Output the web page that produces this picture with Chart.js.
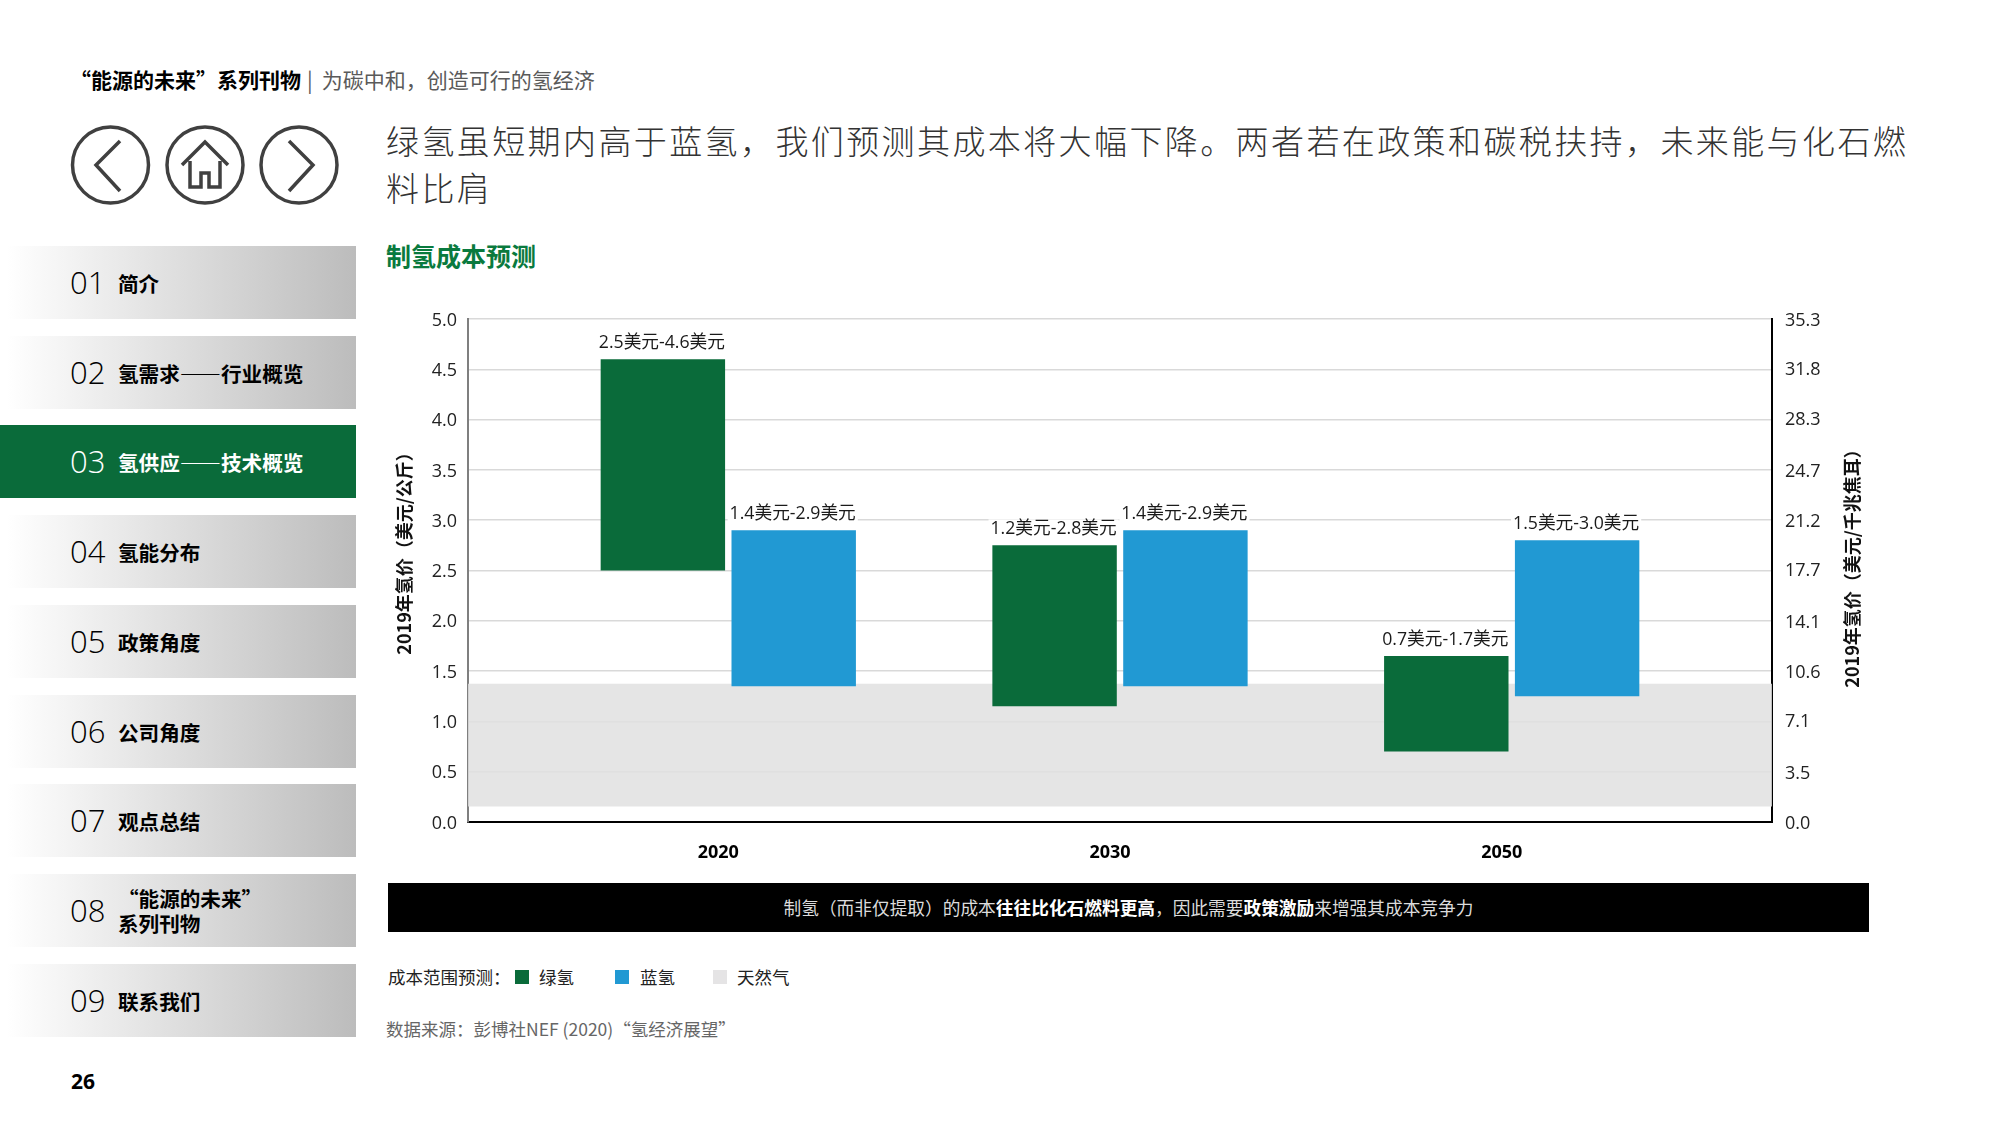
<!DOCTYPE html>
<html lang="zh">
<head>
<meta charset="utf-8">
<title>制氢成本预测</title>
<script src="https://cdn.jsdelivr.net/npm/chart.js@4/dist/chart.umd.min.js"></script>
<style>
  html, body { margin: 0; padding: 0; background: #fff; width: 2000px; height: 1125px; overflow: hidden; }
  body { font-family: "Noto Sans CJK SC", "Open Sans", sans-serif; color: #000; position: relative; }
  .abs { position: absolute; white-space: nowrap; }
  .head { left: 70px; top: 64px; font-size: 21px; line-height: 30px; color: #5a5a5a; }
  .head b { color: #000; }
  .head i { font-style: normal; margin: 0 9px 0 6px; }
  .title { left: 386px; top: 117px; width: 1540px; font-size: 33px; line-height: 47px; font-weight: 300; color: #333; letter-spacing: 2.4px; white-space: normal; }
  .sub { left: 386px; top: 238px; font-size: 25px; line-height: 34px; font-weight: 700; color: #0a7a3e; }
  .nav { left: 0; width: 356px; height: 73px; background: linear-gradient(to right, #fff 2%, #bcbcbc 100%); }
  .nav.on { background: #0a6b3a; color: #fff; }
  .nav .n { position: absolute; left: 70px; top: 16px; font-family: "Open Sans", sans-serif; font-size: 31px; line-height: 40px; font-weight: 300; }
  .nav .t { position: absolute; left: 118px; top: 1px; height: 73px; display: flex; align-items: center; font-size: 20.6px; line-height: 25px; font-weight: 700; white-space: pre; }
  .page { left: 71px; top: 1066px; font-family: "Open Sans", sans-serif; font-size: 21px; line-height: 30px; font-weight: 700; }
  .bar { left: 388px; top: 883px; width: 1481px; height: 49px; background: #000; color: #dcdcdc; font-size: 17.7px; line-height: 49px; text-align: center; }
  .bar b { color: #fff; }
  .lg { top: 964px; font-size: 17.5px; line-height: 26px; color: #222; }
  .sw { top: 970px; width: 14px; height: 14px; }
  .src { left: 386px; top: 1016px; font-size: 17.5px; line-height: 26px; color: #666; }
  #wrap { position: absolute; left: 380px; top: 290px; width: 1520px; height: 590px; }
</style>
</head>
<body>
<div class="abs head"><b>“能源的未来”系列刊物</b><i>|</i>为碳中和，创造可行的氢经济</div>
<svg class="abs" style="left:60px;top:115px" width="300" height="100" fill="none" stroke="#404040" stroke-width="3.5">
  <circle cx="50.5" cy="50" r="38"/><circle cx="145" cy="50" r="38"/><circle cx="239" cy="50" r="38"/>
  <path d="M60 26 L36 50 L60 76"/>
  <path d="M229 26 L253 50 L229 76"/>
  <path d="M122 50 L145 27 L168 50 M130 46 V72 H141 V58 H149 V72 H160 V46"/>
</svg>
<div class="abs title">绿氢虽短期内高于蓝氢，我们预测其成本将大幅下降。两者若在政策和碳税扶持，未来能与化石燃料比肩</div>
<div class="abs sub">制氢成本预测</div>
<div id="side"></div>
<div class="abs page">26</div>

<div id="wrap"><canvas id="cv" width="1520" height="590"></canvas></div>

<div class="abs bar">制氢（而非仅提取）的成本<b>往往比化石燃料更高</b>，因此需要<b>政策激励</b>来增强其成本竞争力</div>
<div class="abs lg" style="left:388px">成本范围预测：</div>
<div class="abs sw" style="left:515px;background:#0a6b3a"></div><div class="abs lg" style="left:539px">绿氢</div>
<div class="abs sw" style="left:615px;background:#2199d3"></div><div class="abs lg" style="left:640px">蓝氢</div>
<div class="abs sw" style="left:713px;background:#e5e4e5"></div><div class="abs lg" style="left:737px">天然气</div>
<div class="abs src">数据来源：彭博社NEF (2020)“氢经济展望”</div>

<script>
// 侧边栏
const navNums = ['01', '02', '03', '04', '05', '06', '07', '08', '09'];
const navTexts = ['简介', '氢需求——行业概览', '氢供应——技术概览', '氢能分布', '政策角度', '公司角度', '观点总结', '“能源的未来”\n系列刊物', '联系我们'];

// 图表数据
const years = ['2020', '2030', '2050'];
const greenRange = [[2.5, 4.6], [1.15, 2.75], [0.7, 1.65]];
const blueRange = [[1.35, 2.9], [1.35, 2.9], [1.25, 2.8]];
const gasRange = [0.155, 1.375];
const greenLabels = ['2.5美元-4.6美元', '1.2美元-2.8美元', '0.7美元-1.7美元'];
const blueLabels = ['1.4美元-2.9美元', '1.4美元-2.9美元', '1.5美元-3.0美元'];
const rightTicks = [0, 3.5, 7.1, 10.6, 14.1, 17.7, 21.2, 24.7, 28.3, 31.8, 35.3];
const leftTitle = '2019年氢价（美元/公斤）';
const rightTitle = '2019年氢价（美元/千兆焦耳）';

// 横轴按序号排，两头留白不等于一个类目的宽度
const xMin = -0.6645;
const xMax = 2.6645;

const FONT = '"Open Sans", "Noto Sans CJK SC", sans-serif';
const CJK = '"Noto Sans CJK SC", "Open Sans", sans-serif';

let side = document.querySelector('#side');
navNums.forEach((n, i) => {
    let d = document.createElement('div');
    d.className = 'abs nav' + (i === 2 ? ' on' : '');
    d.style.top = (246 + i * 89.7) + 'px';
    d.innerHTML = `<span class="n">${n}</span><span class="t">${navTexts[i]}</span>`;
    side.appendChild(d);
});

// 柱顶文字
const barLabels = {
    id: 'barLabels',
    afterDatasetsDraw(chart) {
        const ctx = chart.ctx;
        ctx.save();
        ctx.font = '17.7px ' + FONT;
        ctx.textAlign = 'center';
        ctx.textBaseline = 'middle';
        [[1, greenLabels], [2, blueLabels]].forEach(([idx, texts]) => {
            chart.getDatasetMeta(idx).data.forEach((el, i) => {
                let top = Math.min(el.y, el.base),
                    w = ctx.measureText(texts[i]).width;
                ctx.fillStyle = '#fff';
                ctx.fillRect(el.x - w / 2 - 3, top - 26, w + 4, 22);
                ctx.fillStyle = '#1a1a1a';
                ctx.fillText(texts[i], el.x - 1, top - 16);
            });
        });
        ctx.restore();
    }
};

// 两侧纵轴标题，右侧也是从下往上读
const sideTitles = {
    id: 'sideTitles',
    afterDraw(chart) {
        const ctx = chart.ctx;
        [[leftTitle, 24, 259], [rightTitle, 1472, 274]].forEach(([text, x, y]) => {
            ctx.save();
            ctx.translate(x, y);
            ctx.rotate(-Math.PI / 2);
            ctx.font = '700 18px ' + CJK;
            ctx.textAlign = 'center';
            ctx.textBaseline = 'middle';
            ctx.fillStyle = '#111';
            ctx.fillText(text, 0, 0);
            ctx.restore();
        });
    }
};

new Chart(document.querySelector('#cv').getContext('2d'), {
    type: 'bar',
    data: {
        datasets: [
            {
                type: 'line',
                label: '天然气',
                data: [{ x: xMin, y: gasRange[1] }, { x: xMax, y: gasRange[1] }],
                borderWidth: 0,
                pointRadius: 0,
                fill: { value: gasRange[0] },
                backgroundColor: 'rgba(225,224,225,0.85)',
                order: 2
            },
            {
                label: '绿氢',
                data: greenRange.map((r, i) => ({ x: i, y: r })),
                backgroundColor: '#0a6b3a',
                barPercentage: 0.951,
                categoryPercentage: 0.668,
                order: 1
            },
            {
                label: '蓝氢',
                data: blueRange.map((r, i) => ({ x: i, y: r })),
                backgroundColor: '#2199d3',
                barPercentage: 0.951,
                categoryPercentage: 0.668,
                order: 1
            }
        ]
    },
    options: {
        responsive: false,
        animation: false,
        layout: { padding: { top: 29 } },
        plugins: { legend: { display: false }, tooltip: { enabled: false } },
        scales: {
            x: {
                type: 'linear',
                position: 'bottom',
                offset: false,
                min: xMin,
                max: xMax,
                afterBuildTicks: (axis) => { axis.ticks = years.map((y, i) => ({ value: i })); },
                afterFit: (axis) => { axis.height = 58; },
                grid: { display: false, drawTicks: false },
                border: { color: '#000', width: 2 },
                ticks: {
                    callback: (v) => years[v],
                    font: { family: FONT, size: 18, weight: 700 },
                    color: '#000',
                    padding: 20,
                    labelOffset: -10,
                    maxRotation: 0
                }
            },
            y: {
                position: 'left',
                min: 0,
                max: 5,
                afterFit: (axis) => { axis.width = 88; },
                grid: { color: '#d9d9d9', lineWidth: 1.5, drawTicks: false },
                border: { color: '#7f7f7f', width: 2 },
                ticks: {
                    stepSize: 0.5,
                    callback: (v) => v.toFixed(1),
                    font: { family: FONT, size: 18 },
                    color: '#222',
                    padding: 11,
                    labelOffset: 1.5
                }
            },
            y2: {
                position: 'right',
                min: 0,
                max: 35.3,
                afterBuildTicks: (axis) => { axis.ticks = rightTicks.map((v) => ({ value: v })); },
                afterFit: (axis) => { axis.width = 128; },
                grid: { display: false, drawTicks: false },
                border: { color: '#000', width: 2 },
                ticks: {
                    callback: (v) => v.toFixed(1),
                    font: { family: FONT, size: 18 },
                    color: '#222',
                    padding: 13,
                    labelOffset: 1.5
                }
            }
        }
    },
    plugins: [barLabels, sideTitles]
});
</script>
</body>
</html>
